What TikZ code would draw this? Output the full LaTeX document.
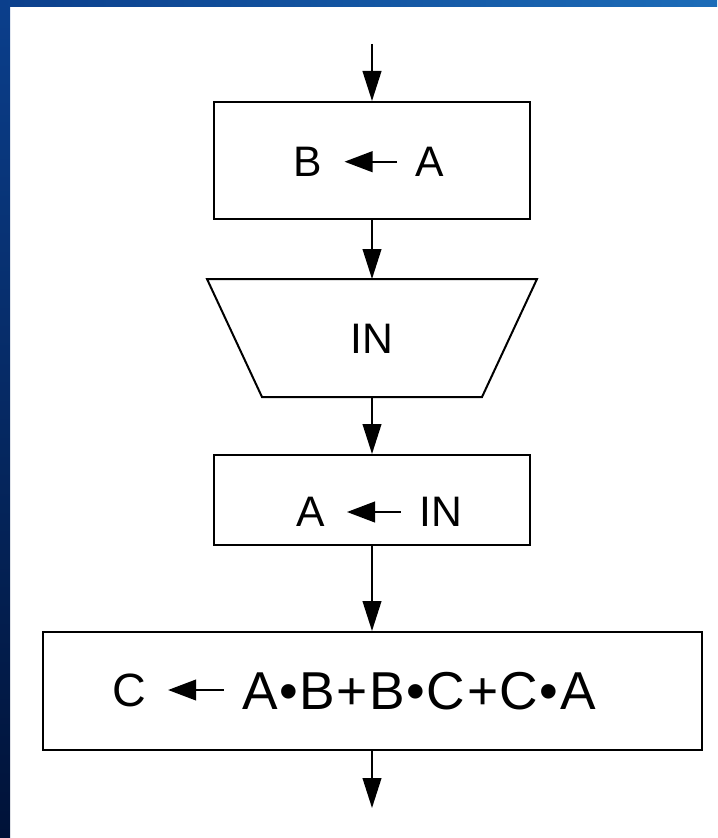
\documentclass[tikz,border=0pt]{standalone}
\usepackage{fontspec}
\setmainfont{Liberation Sans}
\usetikzlibrary{arrows.meta}
\definecolor{slideblue}{HTML}{0B3F8C}
\definecolor{slidenavy}{HTML}{001238}
\definecolor{slidelight}{HTML}{1C6CB8}
\tikzset{
  flow/.style={line width=1.5pt, -{Triangle[length=22.5pt,width=14pt]}},
  assign/.style={line width=1.5pt, -{Triangle[length=21pt,width=15.5pt]}, shorten >=16.5pt, shorten <=13.5pt},
  procbox/.style={draw, line width=1.5pt, minimum width=237pt},
  txt/.style={inner sep=0pt, font=\fontsize{32}{38}\selectfont},
}
\begin{document}
\begin{tikzpicture}[x=0.75pt, y=-0.75pt]
    \useasboundingbox (0,0) rectangle (717,838);
    \fill[white] (0,0) rectangle (717,838);
    % slide background edges
    \shade[top color=slideblue, bottom color=slidenavy] (0,0) rectangle (10,838);
    \shade[left color=slideblue, right color=slidelight] (0,0) rectangle (717,7);
    \coordinate (start) at (372,44);
    \coordinate (stop) at (372,808);
    \node[procbox, minimum height=87.75pt] (box1) at (372,160.5) {};
    % input trapezoid
    \coordinate (inptop) at (372,279);
    \coordinate (inpbot) at (372,397);
    \draw[line width=1.5pt, line join=miter] (207,279) -- (537,279) -- (482,397) -- (262,397) -- cycle;
    \node[txt] (inp) at (372,339) {IN};
    \node[procbox, minimum height=67.5pt] (box3) at (372,500) {};
    \node[procbox, minimum width=494.25pt, minimum height=88.5pt] (box4) at (372,691) {};
    % texts inside the boxes
    \node[txt] (b1) at (308,161.7) {B};
    \node[txt] (a1) at (429.5,161.7) {A};
    \node[txt] (a3) at (310.5,512) {A};
    \node[txt] (in3) at (440.5,512) {IN};
    \node[txt, font=\fontsize{35}{42}\selectfont] (c4) at (129,690) {C};
    \node[txt, font=\fontsize{40}{48}\selectfont\addfontfeature{LetterSpace=3}] (expr4) at (419,691) {A•B+B•C+C•A};
    \draw[assign] (a1) -- (b1);
    \draw[assign] (in3) -- (a3);
    \draw[assign] (expr4.west |- c4) -- (c4);
    % flow lines
    \draw[flow] (start) -- (box1.north);
    \draw[flow] (box1.south) -- (inptop);
    \draw[flow] (inpbot) -- (box3.north);
    \draw[flow] (box3.south) -- (box4.north);
    \draw[flow] (box4.south) -- (stop);
\end{tikzpicture}
\end{document}
